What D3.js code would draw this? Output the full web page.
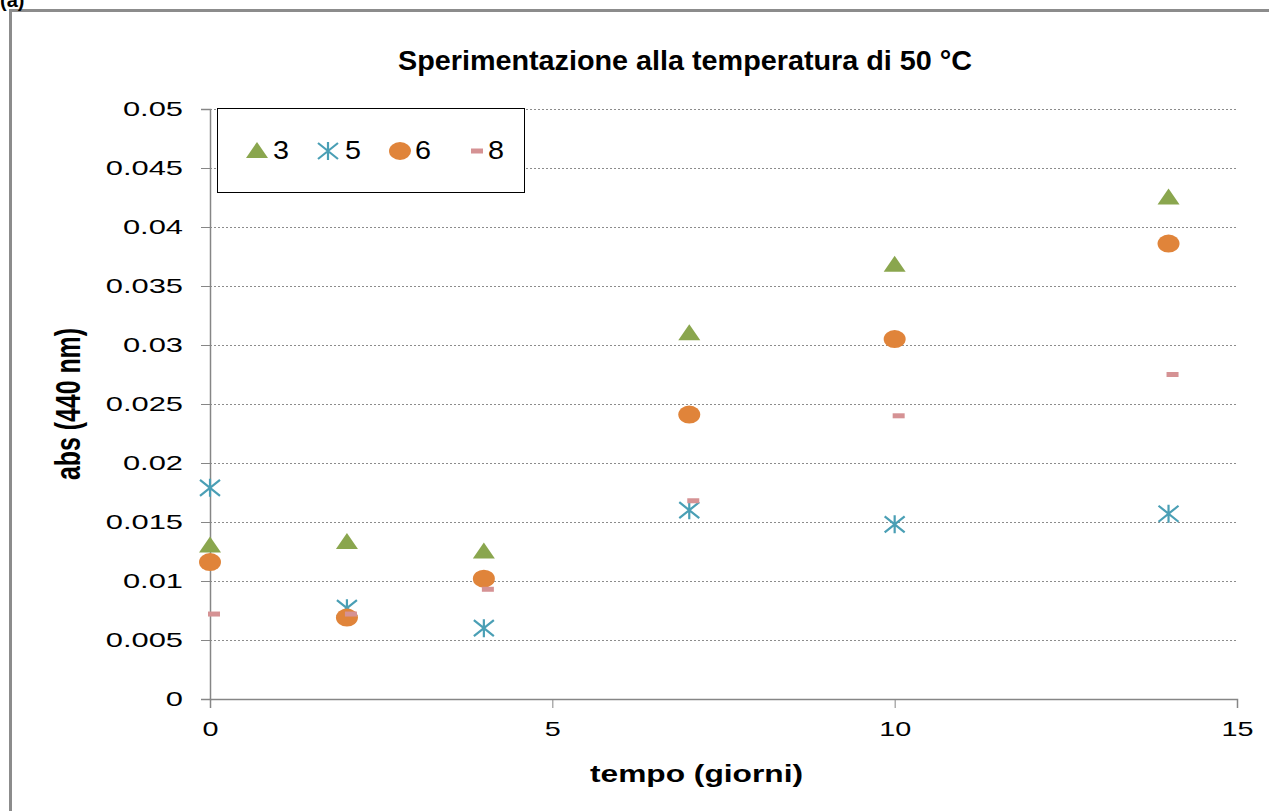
<!DOCTYPE html>
<html>
<head>
<meta charset="utf-8">
<script src="https://cdn.jsdelivr.net/npm/d3@7"></script>
<style>
  body { margin: 0; background: #fff; }
  svg text { font-family: "Liberation Sans", Arial, sans-serif; }
</style>
</head>
<body>
<div id="chart"></div>
<script>
// Data
const days = [0, 2, 4, 7, 10, 14];
const serie3 = [0.0130, 0.0133, 0.0125, 0.0310, 0.0368, 0.0425];
const serie5 = [0.0179, 0.0077, 0.0060, 0.0160, 0.0148, 0.0157];
const serie6 = [0.0116, 0.0069, 0.0102, 0.0241, 0.0305, 0.0386];
const serie8 = [0.0072, 0.0072, 0.0093, 0.0168, 0.0240, 0.0275];
const seriesNames = ['3', '5', '6', '8'];
const xTicks = [0, 5, 10, 15];
const yTicks = [0, 0.005, 0.01, 0.015, 0.02, 0.025, 0.03, 0.035, 0.04, 0.045, 0.05];

const colors = { '3': '#8aa64e', '5': '#4a9fb5', '6': '#e0843a', '8': '#d59294' };

const width = 1269, height = 811;
const margin = { top: 109, right: 32, bottom: 112, left: 210 };

// the reference text is drawn wider than normal, stretch it horizontally
function stretch(sel, sx) {
    sel.each(function () {
        const w = this.getComputedTextLength();
        d3.select(this)
            .attr('textLength', w * sx)
            .attr('lengthAdjust', 'spacingAndGlyphs');
    });
}

const svg = d3.select('#chart').append('svg')
    .attr('width', width)
    .attr('height', height);

// outer frame
svg.append('rect')
    .attr('x', 10.5).attr('y', 10.5)
    .attr('width', width + 20).attr('height', height + 20)
    .attr('fill', 'none')
    .attr('stroke', '#8c8c8c')
    .attr('stroke-width', 3);

svg.append('text')
    .attr('x', 0).attr('y', 7)
    .style('font-size', '20px').style('font-weight', 'bold')
    .text('(a)');

const x = d3.scaleLinear().domain([0, 15]).range([margin.left, width - margin.right]);
const y = d3.scaleLinear().domain([0, 0.05]).range([height - margin.bottom, margin.top]);

// gridlines
svg.append('g')
    .selectAll('line')
    .data(yTicks.slice(1))
    .enter().append('line')
    .attr('x1', x(0)).attr('x2', x(15))
    .attr('y1', d => Math.round(y(d)) + 0.5)
    .attr('y2', d => Math.round(y(d)) + 0.5)
    .attr('stroke', '#8c8c8c')
    .attr('stroke-dasharray', '2,2');

// y axis
const yAxis = svg.append('g')
    .attr('transform', `translate(${x(0)},0)`)
    .call(d3.axisLeft(y).tickValues(yTicks).tickSize(9).tickPadding(18)
        .tickFormat(d => d === 0 ? '0' : d3.format('')(+d.toFixed(3))));
yAxis.select('.domain').attr('stroke', '#868686').attr('stroke-width', 1.5);
yAxis.selectAll('.tick line').attr('stroke', '#868686');
yAxis.selectAll('.tick text').style('font-size', '21px').attr('fill', '#000')
    .call(stretch, 1.47);

// x axis
const xAxis = svg.append('g')
    .attr('transform', `translate(0,${y(0)})`)
    .call(d3.axisBottom(x).tickValues(xTicks).tickSize(9).tickPadding(13));
xAxis.select('.domain').attr('stroke', '#868686').attr('stroke-width', 1.5);
xAxis.selectAll('.tick line').attr('stroke', '#868686');
xAxis.selectAll('.tick text').style('font-size', '21px').attr('fill', '#000')
    .call(stretch, 1.37);

// titles
svg.append('text')
    .attr('x', 398).attr('y', 70)
    .attr('textLength', 574).attr('lengthAdjust', 'spacingAndGlyphs')
    .style('font-size', '28px').style('font-weight', 'bold')
    .text('Sperimentazione alla temperatura di 50 °C');

svg.append('text')
    .attr('x', 590).attr('y', 782)
    .attr('textLength', 213).attr('lengthAdjust', 'spacingAndGlyphs')
    .style('font-size', '23px').style('font-weight', 'bold')
    .text('tempo (giorni)');

svg.append('text')
    .attr('transform', `translate(80,${(y(0) + y(0.05)) / 2}) scale(1.5,1) rotate(-90)`)
    .attr('text-anchor', 'middle')
    .attr('textLength', 152).attr('lengthAdjust', 'spacingAndGlyphs')
    .style('font-size', '24px').style('font-weight', 'bold')
    .text('abs (440 nm)');

// marker drawing
function drawMarker(g, name) {
    const c = colors[name];
    if (name === '3') {
        g.append('path').attr('d', 'M0,-9L11,7L-11,7Z').attr('fill', c);
    } else if (name === '5') {
        g.append('path').attr('d', 'M-10,-8L10,8M-10,8L10,-8M0,-9L0,9')
            .attr('stroke', c).attr('stroke-width', 2.2).attr('fill', 'none');
    } else if (name === '6') {
        g.append('ellipse').attr('rx', 11).attr('ry', 9).attr('fill', c);
    } else {
        g.append('rect').attr('x', -2).attr('y', -2.5).attr('width', 12).attr('height', 5).attr('fill', c);
    }
}

const allSeries = [
    { name: '3', values: serie3 },
    { name: '5', values: serie5 },
    { name: '6', values: serie6 },
    { name: '8', values: serie8 }
];

allSeries.forEach(s => {
    svg.append('g').selectAll('g')
        .data(days.map((d, i) => ({ day: d, v: s.values[i] })))
        .enter().append('g')
        .attr('transform', d => `translate(${x(d.day)},${y(d.v)})`)
        .each(function () { drawMarker(d3.select(this), s.name); });
});

// legend
const legend = svg.append('g');
legend.append('rect')
    .attr('x', 217.5).attr('y', 108.5)
    .attr('width', 307).attr('height', 84)
    .attr('fill', '#fff').attr('stroke', '#000');

const legendMarkX = [257, 328, 400, 473];
const legendTextX = [273, 345, 415, 488];
seriesNames.forEach((name, i) => {
    const g = legend.append('g').attr('transform', `translate(${legendMarkX[i]},151)`);
    drawMarker(g, name);
    legend.append('text')
        .attr('x', legendTextX[i]).attr('y', 159)
        .style('font-size', '25px')
        .text(name)
        .call(stretch, 1.15);
});
</script>
</body>
</html>
